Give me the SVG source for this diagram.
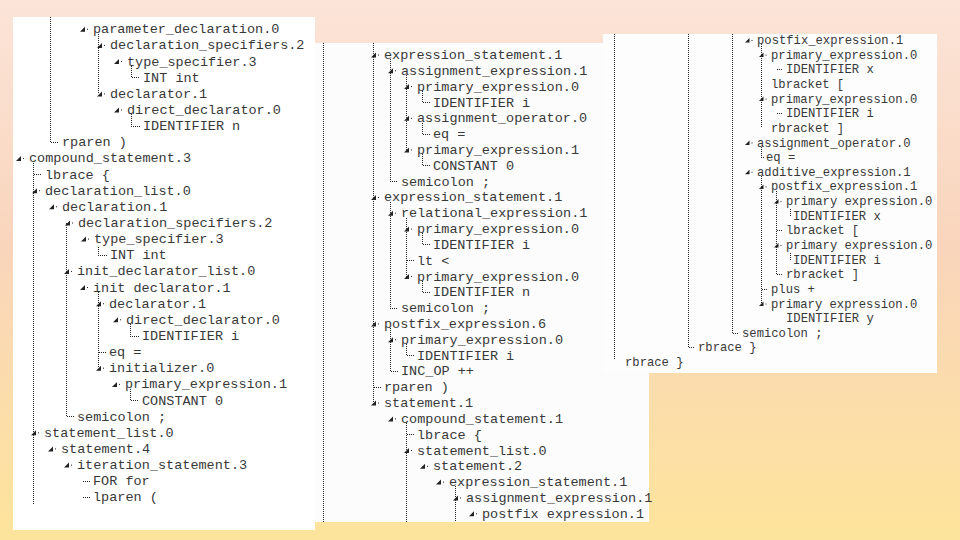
<svg xmlns="http://www.w3.org/2000/svg" xmlns:xlink="http://www.w3.org/1999/xlink" width="960" height="540" viewBox="0 0 960 540">
<style>
.t{font-family:"Liberation Mono","Courier New",monospace;font-size:13.5px;fill:#383838}
.t3{font-family:"Liberation Mono","Courier New",monospace;font-size:12.2px;fill:#383838}
.c{fill:none;stroke:#222;stroke-width:1;stroke-dasharray:1 1;shape-rendering:crispEdges}
.ic{fill:#222}
</style>
<defs>
<linearGradient id="bg" x1="0" y1="0" x2="0" y2="1">
<stop offset="0" stop-color="#fbe4d8"/>
<stop offset="0.45" stop-color="#f9d5bc"/>
<stop offset="1" stop-color="#fde49b"/>
</linearGradient>
<g id="tr" class="ic"><path d="M-13 -1.5H-8V-6.5Z"/><rect x="-6" y="-4.5" width="1" height="1"/></g>
<g id="tr3" class="ic"><path d="M-12 -1.5H-7.5V-6Z"/><rect x="-5.5" y="-4" width="1" height="1"/></g>
</defs>
<rect width="960" height="540" fill="url(#bg)"/>
<rect x="13" y="17" width="302" height="513" fill="#ffffff"/>
<rect x="315" y="43" width="334" height="479" fill="#fcfcfc"/>
<rect x="603" y="34" width="334" height="339" fill="#fdfdfd"/>

<g id="connectors">
<path class="c" d="M50.5 17V142.5H59"/>
<path class="c" d="M98.5 33.5V93.9"/>
<path class="c" d="M131.5 66V77.5H140"/>
<path class="c" d="M131.5 114V126.5H140"/>
<path class="c" d="M33.5 162.5V505"/>
<path class="c" d="M33.5 174.5H42"/>
<path class="c" d="M66.5 223V416.5H74"/>
<path class="c" d="M98.5 247V255.5H107"/>
<path class="c" d="M98.5 291.5V368.2"/>
<path class="c" d="M98.5 352.5H106"/>
<path class="c" d="M130.5 324V336.5H139"/>
<path class="c" d="M130.5 388.5V400.5H139"/>
<path class="c" d="M82.5 481.5H90"/>
<path class="c" d="M82.5 497.5H90"/>

<path class="c" d="M323.5 43V522"/>
<path class="c" d="M373.5 43V403"/>
<path class="c" d="M373.5 387.5H381"/>
<path class="c" d="M390.5 59V181.5H398"/>
<path class="c" d="M406.5 74.5V149.9"/>
<path class="c" d="M422.5 90.5V102.5H430"/>
<path class="c" d="M422.5 122.5V134.5H430"/>
<path class="c" d="M422.5 153.5V165.5H430"/>
<path class="c" d="M390.5 201.5V308.5H398"/>
<path class="c" d="M406.5 217.5V276.5"/>
<path class="c" d="M406.5 260.5H414"/>
<path class="c" d="M422.5 233V244.5H430"/>
<path class="c" d="M422.5 280.5V292.5H430"/>
<path class="c" d="M390.5 327.5V371.5H398"/>
<path class="c" d="M406.5 343.5V355.5H414"/>
<path class="c" d="M406.5 422.5V522"/>
<path class="c" d="M406.5 434.5H414"/>
<path class="c" d="M455.5 486V522"/>

<path class="c" d="M614.5 34V360"/>
<path class="c" d="M688.5 34V347.5H695"/>
<path class="c" d="M732.5 34V333.5H739"/>
<path class="c" d="M761.5 44V128.3"/>
<path class="c" d="M777 69.5H783"/>
<path class="c" d="M777 113.5H783"/>
<path class="c" d="M761.5 146.5V157.5H764"/>
<path class="c" d="M761.5 175.5V304"/>
<path class="c" d="M761.5 289.5H768"/>
<path class="c" d="M776.5 190.5V274.5H783"/>
<path class="c" d="M776.5 230.5H783"/>
<path class="c" d="M790.5 209V216.2"/>
<path class="c" d="M790.5 253V260.1"/>
</g>

<!-- Panel 1 -->
<g id="p1n0"><use href="#tr" x="93" y="33.3"/><text class="t" x="93" y="33.3">parameter_declaration.0</text></g>
<g id="p1n1"><use href="#tr" x="110" y="49.4"/><text class="t" x="110" y="49.4">declaration_specifiers.2</text></g>
<g id="p1n2"><use href="#tr" x="127" y="65.6"/><text class="t" x="127" y="65.6">type_specifier.3</text></g>
<g id="p1n3"><text class="t" x="143" y="81.7">INT int</text></g>
<g id="p1n4"><use href="#tr" x="110" y="97.9"/><text class="t" x="110" y="97.9">declarator.1</text></g>
<g id="p1n5"><use href="#tr" x="127" y="114"/><text class="t" x="127" y="114">direct_declarator.0</text></g>
<g id="p1n6"><text class="t" x="143" y="130.1">IDENTIFIER n</text></g>
<g id="p1n7"><text class="t" x="62" y="146.3">rparen )</text></g>
<g id="p1n8"><use href="#tr" x="29" y="162.4"/><text class="t" x="29" y="162.4">compound_statement.3</text></g>
<g id="p1n9"><text class="t" x="45" y="178.6">lbrace {</text></g>
<g id="p1n10"><use href="#tr" x="45" y="194.7"/><text class="t" x="45" y="194.7">declaration_list.0</text></g>
<g id="p1n11"><use href="#tr" x="62" y="210.8"/><text class="t" x="62" y="210.8">declaration.1</text></g>
<g id="p1n12"><use href="#tr" x="78" y="227"/><text class="t" x="78" y="227">declaration_specifiers.2</text></g>
<g id="p1n13"><use href="#tr" x="94" y="243.1"/><text class="t" x="94" y="243.1">type_specifier.3</text></g>
<g id="p1n14"><text class="t" x="110" y="259.3">INT int</text></g>
<g id="p1n15"><use href="#tr" x="77" y="275.4"/><text class="t" x="77" y="275.4">init_declarator_list.0</text></g>
<g id="p1n16"><use href="#tr" x="93" y="291.5"/><text class="t" x="93" y="291.5">init declarator.1</text></g>
<g id="p1n17"><use href="#tr" x="109" y="307.7"/><text class="t" x="109" y="307.7">declarator.1</text></g>
<g id="p1n18"><use href="#tr" x="126" y="323.8"/><text class="t" x="126" y="323.8">direct_declarator.0</text></g>
<g id="p1n19"><text class="t" x="142" y="340">IDENTIFIER i</text></g>
<g id="p1n20"><text class="t" x="109" y="356.1">eq =</text></g>
<g id="p1n21"><use href="#tr" x="109" y="372.2"/><text class="t" x="109" y="372.2">initializer.0</text></g>
<g id="p1n22"><use href="#tr" x="125" y="388.4"/><text class="t" x="125" y="388.4">primary_expression.1</text></g>
<g id="p1n23"><text class="t" x="142" y="404.5">CONSTANT 0</text></g>
<g id="p1n24"><text class="t" x="77" y="420.7">semicolon ;</text></g>
<g id="p1n25"><use href="#tr" x="44" y="436.8"/><text class="t" x="44" y="436.8">statement_list.0</text></g>
<g id="p1n26"><use href="#tr" x="61" y="452.9"/><text class="t" x="61" y="452.9">statement.4</text></g>
<g id="p1n27"><use href="#tr" x="77" y="469.1"/><text class="t" x="77" y="469.1">iteration_statement.3</text></g>
<g id="p1n28"><text class="t" x="93" y="485.2">FOR for</text></g>
<g id="p1n29"><text class="t" x="93" y="501.4">lparen (</text></g>

<!-- Panel 2 -->
<g id="p2n0"><use href="#tr" x="384" y="59"/><text class="t" x="384" y="59">expression_statement.1</text></g>
<g id="p2n1"><use href="#tr" x="401" y="74.8"/><text class="t" x="401" y="74.8">assignment_expression.1</text></g>
<g id="p2n2"><use href="#tr" x="417" y="90.6"/><text class="t" x="417" y="90.6">primary_expression.0</text></g>
<g id="p2n3"><text class="t" x="433" y="106.5">IDENTIFIER i</text></g>
<g id="p2n4"><use href="#tr" x="417" y="122.3"/><text class="t" x="417" y="122.3">assignment_operator.0</text></g>
<g id="p2n5"><text class="t" x="433" y="138.1">eq =</text></g>
<g id="p2n6"><use href="#tr" x="417" y="153.9"/><text class="t" x="417" y="153.9">primary_expression.1</text></g>
<g id="p2n7"><text class="t" x="433" y="169.7">CONSTANT 0</text></g>
<g id="p2n8"><text class="t" x="401" y="185.6">semicolon ;</text></g>
<g id="p2n9"><use href="#tr" x="384" y="201.4"/><text class="t" x="384" y="201.4">expression_statement.1</text></g>
<g id="p2n10"><use href="#tr" x="401" y="217.2"/><text class="t" x="401" y="217.2">relational_expression.1</text></g>
<g id="p2n11"><use href="#tr" x="417" y="233"/><text class="t" x="417" y="233">primary_expression.0</text></g>
<g id="p2n12"><text class="t" x="433" y="248.8">IDENTIFIER i</text></g>
<g id="p2n13"><text class="t" x="417" y="264.7">lt &lt;</text></g>
<g id="p2n14"><use href="#tr" x="417" y="280.5"/><text class="t" x="417" y="280.5">primary_expression.0</text></g>
<g id="p2n15"><text class="t" x="433" y="296.3">IDENTIFIER n</text></g>
<g id="p2n16"><text class="t" x="401" y="312.1">semicolon ;</text></g>
<g id="p2n17"><use href="#tr" x="384" y="327.9"/><text class="t" x="384" y="327.9">postfix_expression.6</text></g>
<g id="p2n18"><use href="#tr" x="401" y="343.8"/><text class="t" x="401" y="343.8">primary_expression.0</text></g>
<g id="p2n19"><text class="t" x="417" y="359.6">IDENTIFIER i</text></g>
<g id="p2n20"><text class="t" x="401" y="375.4">INC_OP ++</text></g>
<g id="p2n21"><text class="t" x="384" y="391.2">rparen )</text></g>
<g id="p2n22"><use href="#tr" x="384" y="407"/><text class="t" x="384" y="407">statement.1</text></g>
<g id="p2n23"><use href="#tr" x="401" y="422.9"/><text class="t" x="401" y="422.9">compound_statement.1</text></g>
<g id="p2n24"><text class="t" x="417" y="438.7">lbrace {</text></g>
<g id="p2n25"><use href="#tr" x="417" y="454.5"/><text class="t" x="417" y="454.5">statement_list.0</text></g>
<g id="p2n26"><use href="#tr" x="433" y="470.3"/><text class="t" x="433" y="470.3">statement.2</text></g>
<g id="p2n27"><use href="#tr" x="449" y="486.1"/><text class="t" x="449" y="486.1">expression_statement.1</text></g>
<g id="p2n28"><use href="#tr" x="466" y="502"/><text class="t" x="466" y="502">assignment_expression.1</text></g>
<g id="p2n29"><use href="#tr" x="482" y="517.8"/><text class="t" x="482" y="517.8">postfix expression.1</text></g>

<!-- Panel 3 -->
<g id="p3n0"><use href="#tr3" x="757" y="44"/><text class="t3" x="757" y="44">postfix_expression.1</text></g>
<g id="p3n1"><use href="#tr3" x="771" y="58.6"/><text class="t3" x="771" y="58.6">primary_expression.0</text></g>
<g id="p3n2"><text class="t3" x="786" y="73.3">IDENTIFIER x</text></g>
<g id="p3n3"><text class="t3" x="771" y="87.9">lbracket [</text></g>
<g id="p3n4"><use href="#tr3" x="771" y="102.6"/><text class="t3" x="771" y="102.6">primary_expression.0</text></g>
<g id="p3n5"><text class="t3" x="786" y="117.2">IDENTIFIER i</text></g>
<g id="p3n6"><text class="t3" x="771" y="131.8">rbracket ]</text></g>
<g id="p3n7"><use href="#tr3" x="757" y="146.5"/><text class="t3" x="757" y="146.5">assignment_operator.0</text></g>
<g id="p3n8"><text class="t3" x="766" y="161.1">eq =</text></g>
<g id="p3n9"><use href="#tr3" x="757" y="175.8"/><text class="t3" x="757" y="175.8">additive_expression.1</text></g>
<g id="p3n10"><use href="#tr3" x="771" y="190.4"/><text class="t3" x="771" y="190.4">postfix_expression.1</text></g>
<g id="p3n11"><use href="#tr3" x="786" y="205"/><text class="t3" x="786" y="205">primary expression.0</text></g>
<g id="p3n12"><text class="t3" x="793" y="219.7">IDENTIFIER x</text></g>
<g id="p3n13"><text class="t3" x="786" y="234.3">lbracket [</text></g>
<g id="p3n14"><use href="#tr3" x="786" y="249"/><text class="t3" x="786" y="249">primary expression.0</text></g>
<g id="p3n15"><text class="t3" x="793" y="263.6">IDENTIFIER i</text></g>
<g id="p3n16"><text class="t3" x="786" y="278.2">rbracket ]</text></g>
<g id="p3n17"><text class="t3" x="771" y="292.9">plus +</text></g>
<g id="p3n18"><use href="#tr3" x="771" y="307.5"/><text class="t3" x="771" y="307.5">primary expression.0</text></g>
<g id="p3n19"><text class="t3" x="786" y="322.2">IDENTIFIER y</text></g>
<g id="p3n20"><text class="t3" x="742" y="336.8">semicolon ;</text></g>
<g id="p3n21"><text class="t3" x="698" y="351.4">rbrace }</text></g>
<g id="p3n22"><text class="t3" x="625" y="366.1">rbrace }</text></g>
</svg>
